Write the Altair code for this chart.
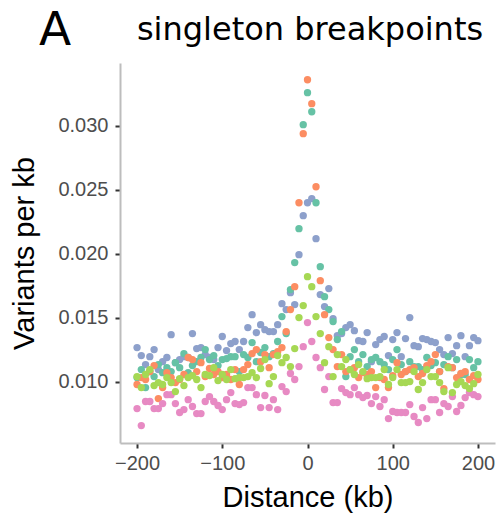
import altair as alt
import pandas as pd

distance_kb = list(range(-200, 205, 5))

series_blue = [0.01266, 0.01203, 0.01133, 0.01195, 0.01250, 0.01094, 0.01156, 0.01188, 0.01367, 0.01148,
               0.01172, 0.01195, 0.01188, 0.01375, 0.01258, 0.01266, 0.01211, 0.01188, 0.01172, 0.01266,
               0.01352, 0.01242, 0.01297, 0.01313, 0.01250, 0.01313, 0.01422, 0.01523, 0.01383, 0.01445,
               0.01406, 0.01391, 0.01391, 0.01445, 0.01609, 0.01563, 0.01695, 0.01602, 0.01992, 0.02297,
               0.02398, 0.02430, 0.02117, 0.01680, 0.01586, 0.01727, 0.01492, 0.01359, 0.01375, 0.01422,
               0.01445, 0.01398, 0.01320, 0.01313, 0.01383, 0.01156, 0.01289, 0.01328, 0.01352, 0.01203,
               0.01328, 0.01383, 0.01195, 0.01336, 0.01500, 0.01281, 0.01273, 0.01336, 0.01328, 0.01313,
               0.01305, 0.01250, 0.01211, 0.01344, 0.01219, 0.01281, 0.01359, 0.01195, 0.01281, 0.01344,
               0.01320]

series_teal = [0.01031, 0.01094, 0.00953, 0.01078, 0.01039, 0.01133, 0.01070, 0.01109, 0.01078, 0.01148,
               0.01109, 0.01219, 0.01070, 0.01125, 0.01156, 0.01188, 0.01250, 0.01172, 0.01203, 0.01125,
               0.01172, 0.01180, 0.01195, 0.01195, 0.01078, 0.01211, 0.01188, 0.01305, 0.01156, 0.01227,
               0.01266, 0.01195, 0.01219, 0.01313, 0.01508, 0.01375, 0.01719, 0.01930, 0.02195, 0.03008,
               0.03258, 0.03109, 0.02398, 0.01898, 0.01664, 0.01563, 0.01469, 0.01328, 0.01391, 0.01039,
               0.01195, 0.01250, 0.01156, 0.01211, 0.01117, 0.01172, 0.01188, 0.01156, 0.01133, 0.01094,
               0.01172, 0.01250, 0.01133, 0.01078, 0.01156, 0.01117, 0.01117, 0.01094, 0.01188, 0.01125,
               0.01148, 0.01078, 0.01133, 0.01195, 0.01109, 0.01172, 0.01055, 0.01055, 0.01172, 0.01109,
               0.01156]

series_orange = [0.00977, 0.01031, 0.01016, 0.01078, 0.01125, 0.00867, 0.00953, 0.01070, 0.01031, 0.00992,
                 0.01016, 0.01055, 0.01188, 0.01172, 0.01078, 0.01148, 0.01039, 0.01102, 0.01055, 0.01078,
                 0.01031, 0.01055, 0.01016, 0.01094, 0.00977, 0.01094, 0.01133, 0.01219, 0.01250, 0.01156,
                 0.01211, 0.01109, 0.01211, 0.01234, 0.01266, 0.01391, 0.01563, 0.01742, 0.02398, 0.02938,
                 0.03359, 0.03172, 0.02523, 0.01789, 0.01523, 0.01344, 0.01250, 0.01117, 0.01211, 0.01078,
                 0.01094, 0.01109, 0.01031, 0.01070, 0.01055, 0.01078, 0.00953, 0.01031, 0.01016, 0.00953,
                 0.01047, 0.01148, 0.01055, 0.01078, 0.01094, 0.01109, 0.01039, 0.01063, 0.01125, 0.01156,
                 0.01211, 0.01078, 0.00945, 0.01117, 0.01109, 0.01031, 0.01063, 0.01078, 0.01016, 0.01047,
                 0.01016]

series_pink = [0.00789, 0.00656, 0.00844, 0.00844, 0.00789, 0.00789, 0.00828, 0.00898, 0.00898, 0.00828,
               0.00758, 0.00781, 0.00859, 0.00805, 0.00750, 0.00750, 0.00844, 0.00883, 0.00844, 0.00813,
               0.00781, 0.00859, 0.00914, 0.00828, 0.00820, 0.00836, 0.00953, 0.00953, 0.00898, 0.00797,
               0.00891, 0.00797, 0.00859, 0.00781, 0.00961, 0.00922, 0.01063, 0.01016, 0.01117, 0.01273,
               0.01461, 0.01313, 0.01188, 0.01109, 0.00938, 0.01039, 0.00836, 0.00836, 0.00945, 0.00914,
               0.00898, 0.00953, 0.00898, 0.00875, 0.00891, 0.00828, 0.00883, 0.00805, 0.00859, 0.00711,
               0.00766, 0.00758, 0.00758, 0.00758, 0.00820, 0.00727, 0.00680, 0.00797, 0.00711, 0.00859,
               0.00859, 0.00758, 0.00828, 0.00805, 0.00883, 0.00766, 0.00813, 0.00875, 0.00914, 0.00898,
               0.00883]

series_green = [0.01039, 0.00953, 0.01055, 0.01094, 0.00969, 0.00992, 0.00977, 0.01031, 0.00992, 0.00922,
                0.01023, 0.00969, 0.01031, 0.01047, 0.01016, 0.00953, 0.01055, 0.01047, 0.01109, 0.01008,
                0.01055, 0.01016, 0.01094, 0.01023, 0.01031, 0.01031, 0.01039, 0.01070, 0.01031, 0.01102,
                0.01172, 0.00984, 0.01039, 0.01203, 0.01148, 0.01188, 0.01117, 0.01258, 0.01500, 0.01594,
                0.01820, 0.01742, 0.01508, 0.01375, 0.01148, 0.01273, 0.01039, 0.01211, 0.01117, 0.01172,
                0.01094, 0.01055, 0.01133, 0.01078, 0.01023, 0.01031, 0.01031, 0.01039, 0.01094, 0.00977,
                0.01031, 0.01094, 0.00992, 0.00992, 0.01000, 0.01078, 0.00938, 0.00992, 0.01094, 0.01039,
                0.01039, 0.00992, 0.00922, 0.01109, 0.00914, 0.00977, 0.01000, 0.00969, 0.00945, 0.00984,
                0.01055]

series_names = ["blue", "teal", "orange", "pink", "green"]
series_colors = ["#8da0cb", "#66c2a5", "#fc8d62", "#e78ac3", "#a6d854"]
series_values = [series_blue, series_teal, series_orange, series_pink, series_green]

y_ticks = [0.010, 0.015, 0.020, 0.025, 0.030]
x_ticks = [-200, -100, 0, 100, 200]

panel_label = ["A"]
title_text = ["singleton breakpoints"]

rows = []
for order, (name, vals) in enumerate(zip(series_names, series_values)):
    for d, v in zip(distance_kb, vals):
        rows.append({"series": name, "distance": d, "rate": v, "order": order})
df = pd.DataFrame(rows)

points = alt.Chart(df).mark_circle(size=54, opacity=1).encode(
    x=alt.X("distance:Q",
            scale=alt.Scale(domain=[-220, 220], nice=False, zero=False),
            axis=alt.Axis(values=x_ticks, title="Distance (kb)", format="d")),
    y=alt.Y("rate:Q",
            scale=alt.Scale(domain=[0.0052, 0.0349], nice=False, zero=False),
            axis=alt.Axis(values=y_ticks, title="Variants per kb", format=".3f")),
    color=alt.Color("series:N",
                    scale=alt.Scale(domain=series_names, range=series_colors),
                    legend=None),
    order=alt.Order("order:Q"),
)

panel = alt.Chart(pd.DataFrame({"label": panel_label})).mark_text(
    font="DejaVu Sans", fontSize=47, align="center", baseline="alphabetic", color="black"
).encode(text="label:N", x=alt.value(-65), y=alt.value(-18))

title = alt.Chart(pd.DataFrame({"label": title_text})).mark_text(
    font="DejaVu Sans", fontSize=32, align="center", baseline="alphabetic", color="black"
).encode(text="label:N", x=alt.value(190), y=alt.value(-23))

chart = alt.layer(points, panel, title).properties(
    width=375,
    height=380,
    padding={"left": 120, "top": 63, "right": 6, "bottom": 76},
    autosize=alt.AutoSizeParams(type="none"),
).configure_view(stroke=None).configure_axis(
    grid=False,
    domainColor="#bdbdbd",
    domainWidth=2,
    tickColor="#333333",
    tickWidth=2,
    tickSize=5,
    labelFont="Liberation Sans",
    labelFontSize=20,
    labelColor="#4d4d4d",
    titleFont="Liberation Sans",
    titleFontSize=29,
    titleFontWeight="normal",
    titleColor="black",
).configure_axisY(titlePadding=18, labelPadding=7).configure_axisX(titlePadding=10, labelPadding=5)

chart.save("out.html", embed_options={"renderer": "svg", "actions": False})
